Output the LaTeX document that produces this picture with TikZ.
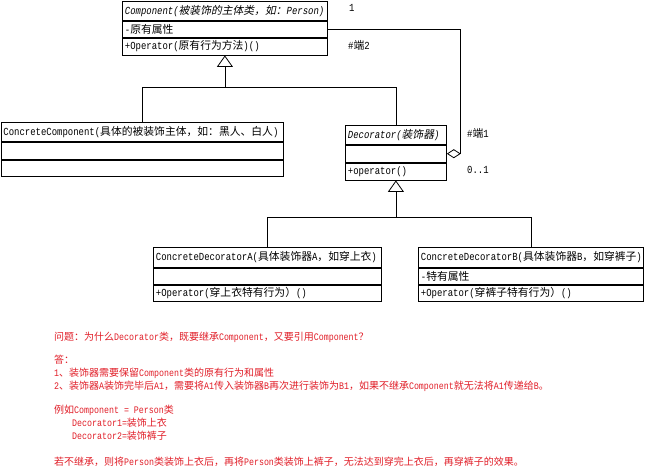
\documentclass[tikz,border=0pt]{standalone}
\usepackage{fontspec}
\setmainfont{Noto Sans CJK SC}
\newfontfamily\latfont{Liberation Mono}[FakeStretch=0.83]
\newfontfamily\cjkslant{Noto Sans CJK SC}[FakeSlant=0.2]
\newcommand\la[1]{{\latfont #1}}
\newcommand\lai[1]{{\latfont\itshape #1}}
\newcommand\ci[1]{{\cjkslant #1}}
\usetikzlibrary{arrows.meta}
\definecolor{notered}{RGB}{225,30,40}
\tikzset{
  row/.style={draw, line width=0.8pt, anchor=north west, inner xsep=2.5pt, inner ysep=0pt,
              align=left, font=\fontsize{10.8}{12}\selectfont},
  lbl/.style={anchor=west, inner sep=0pt, font=\fontsize{10.8}{12}\selectfont},
  note/.style={anchor=west, inner sep=0pt, text=notered, font=\fontsize{10}{11}\selectfont},
  gen/.style={line width=0.8pt, -{Triangle[open,length=11.5pt,width=16pt]}},
  plain/.style={line width=0.8pt},
  agg/.style={line width=0.8pt, -{Diamond[open,length=14pt,width=9pt]}}
}
\begin{document}
\begin{tikzpicture}[x=1pt,y=-1pt]
\fill[white] (0,0) rectangle (647,472);
\useasboundingbox (0,0) rectangle (647,472);

% Component
\node[row, text width=200pt, minimum height=19pt] (compH) at (122,1)
  {\lai{Component(}\ci{被装饰的主体类，如：}\lai{Person)}};
\node[row, text width=200pt, minimum height=16pt] (compA) at (compH.south west) {\la{-}原有属性};
\node[row, text width=200pt, minimum height=17pt] (compM) at (compA.south west) {\la{+Operator(}原有行为方法\la{)()}};

% ConcreteComponent
\node[row, text width=277.5pt, minimum height=19pt] (ccH) at (0.5,122)
  {\la{ConcreteComponent(}具体的被装饰主体，如：黑人、白人\la{)}};
\node[row, text width=277.5pt, minimum height=17pt] (ccA) at (ccH.south west) {};
\node[row, text width=277.5pt, minimum height=16pt] (ccM) at (ccA.south west) {};

% Decorator
\node[row, text width=96pt, minimum height=19pt] (decH) at (345,125)
  {\lai{Decorator(}\ci{装饰器}\lai{)}};
\node[row, text width=96pt, minimum height=17pt] (decA) at (decH.south west) {};
\node[row, text width=96pt, minimum height=17pt] (decM) at (decA.south west) {\la{+operator()}};

% ConcreteDecoratorA
\node[row, text width=223pt, minimum height=20pt] (cdaH) at (153,247)
  {\la{ConcreteDecoratorA(}具体装饰器\la{A}，如穿上衣\la{)}};
\node[row, text width=223pt, minimum height=16pt] (cdaA) at (cdaH.south west) {};
\node[row, text width=223pt, minimum height=16pt] (cdaM) at (cdaA.south west) {\la{+Operator(}穿上衣特有行为）\la{()}};

% ConcreteDecoratorB
\node[row, text width=220pt, minimum height=20pt] (cdbH) at (418,247)
  {\la{ConcreteDecoratorB(}具体装饰器\la{B}，如穿裤子\la{)}};
\node[row, text width=220pt, minimum height=16pt] (cdbA) at (cdbH.south west) {\la{-}特有属性};
\node[row, text width=220pt, minimum height=16pt] (cdbM) at (cdbA.south west) {\la{+Operator(}穿裤子特有行为）\la{()}};

% connectors
\coordinate (lvl1) at (0,87);
\coordinate (j1) at (compM.south |- lvl1);
\draw[gen] (ccH.north) |- (j1) -- (compM.south);
\draw[plain] (decH.north) |- (j1);

\coordinate (lvl2) at (0,217);
\coordinate (j2) at (decM.south |- lvl2);
\draw[gen] (cdaH.north) |- (j2) -- (decM.south);
\draw[plain] (cdbH.north) |- (j2);

\draw[agg] (compA.east) -- ++(133,0) |- (decA.east);

% multiplicity / role labels
\node[lbl] (m1) at (349,8) {\la{1}};
\node[lbl] (r2) at (348,45) {\la{\#}端\la{2}};
\node[lbl] (r1) at (467,133) {\la{\#}端\la{1}};
\node[lbl] (m0) at (467,170) {\la{0..1}};

% notes
\node[note] (t1) at (54,337) {问题：为什么\la{Decorator}类，既要继承\la{Component}，又要引用\la{Component}？};
\node[note] (t2) at (54,360) {答：};
\node[note] (t3) at (54,373) {\la{1}、装饰器需要保留\la{Component}类的原有行为和属性};
\node[note] (t4) at (54,386) {\la{2}、装饰器\la{A}装饰完毕后\la{A1}，需要将\la{A1}传入装饰器\la{B}再次进行装饰为\la{B1}，如果不继承\la{Component}就无法将\la{A1}传递给\la{B}。};
\node[note] (t5) at (54,410) {例如\la{Component = Person}类};
\node[note] (t6) at (72,423) {\la{Decorator1=}装饰上衣};
\node[note] (t7) at (72,436) {\la{Decorator2=}装饰裤子};
\node[note] (t8) at (54,462) {若不继承，则将\la{Person}类装饰上衣后，再将\la{Person}类装饰上裤子，无法达到穿完上衣后，再穿裤子的效果。};
\end{tikzpicture}
\end{document}
